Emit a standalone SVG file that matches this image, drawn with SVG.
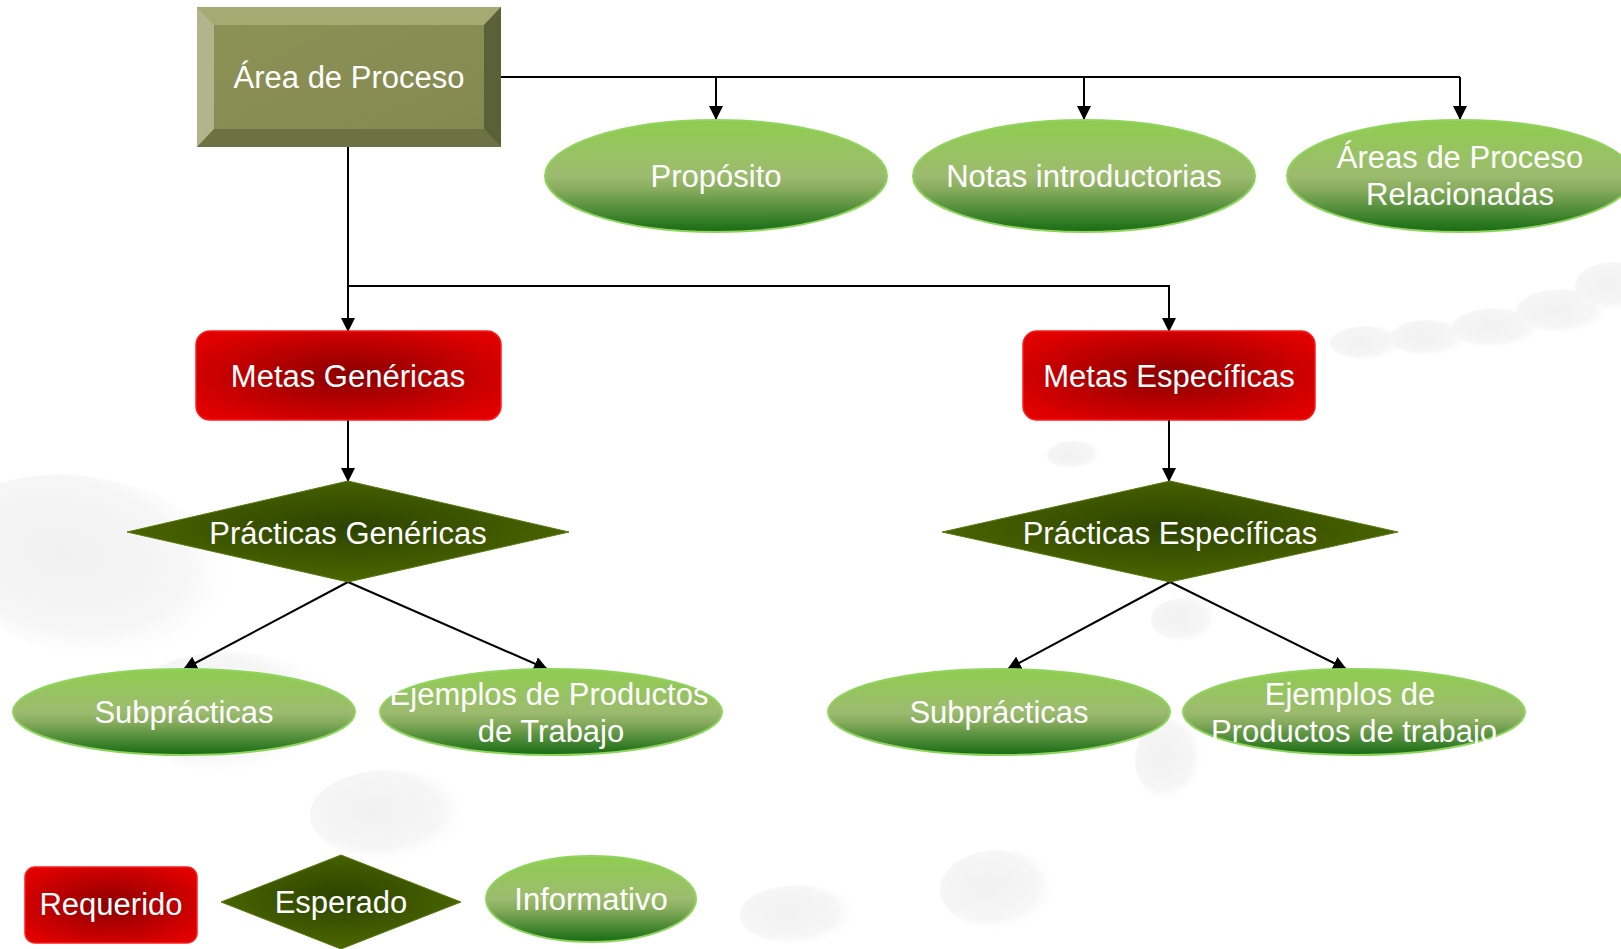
<svg xmlns="http://www.w3.org/2000/svg" width="1621" height="949" viewBox="0 0 1621 949">
<defs>
<style>
.t{font-family:"Liberation Sans",Arial,sans-serif;font-size:31px;fill:#ffffff;text-anchor:middle}
.ell{fill:url(#gEll);stroke:#8fd45c;stroke-width:2}
.goal{fill:url(#gRed);stroke:#ff1a1a;stroke-width:1.5}
.prac{fill:url(#gDia);stroke:#587a12;stroke-width:1}
.con{fill:none;stroke:#000;stroke-width:2}
.blob{fill:url(#gBlob)}
</style>
<linearGradient id="gEll" x1="0" y1="0" x2="0" y2="1">
<stop offset="0" stop-color="#8fcd50"/>
<stop offset="0.5" stop-color="#9dbb6f"/>
<stop offset="0.62" stop-color="#86ac5c"/>
<stop offset="1" stop-color="#176b14"/>
</linearGradient>
<radialGradient id="gRed" cx="0.5" cy="0.5" r="0.6">
<stop offset="0" stop-color="#8a0000"/>
<stop offset="1" stop-color="#e00000"/>
</radialGradient>
<radialGradient id="gDia" cx="0.5" cy="0.45" r="0.55">
<stop offset="0" stop-color="#2c4300"/>
<stop offset="1" stop-color="#4c6600"/>
</radialGradient>
<linearGradient id="gBox" x1="0" y1="0" x2="1" y2="1">
<stop offset="0" stop-color="#8d9356"/>
<stop offset="1" stop-color="#828850"/>
</linearGradient>
<radialGradient id="gBlob" cx="0.4" cy="0.45" r="0.6">
<stop offset="0" stop-color="#f1f1f1"/>
<stop offset="0.7" stop-color="#f6f6f6"/>
<stop offset="1" stop-color="#ffffff" stop-opacity="0"/>
</radialGradient>
<marker id="arr" markerWidth="14" markerHeight="14" refX="13" refY="7" orient="auto" markerUnits="userSpaceOnUse">
<path d="M0,0 L14,7 L0,14 Z" fill="#000"/>
</marker>
<clipPath id="clipGP"><rect x="388" y="660" width="324" height="100"/></clipPath>
<clipPath id="clipSP"><rect x="1180" y="660" width="350" height="86"/></clipPath>
</defs>
<rect width="1621" height="949" fill="#ffffff"/>
<g id="background">
<ellipse class="blob" cx="1368" cy="343" rx="38" ry="17"/>
<ellipse class="blob" cx="1430" cy="338" rx="40" ry="18"/>
<ellipse class="blob" cx="1498" cy="328" rx="46" ry="20"/>
<ellipse class="blob" cx="1564" cy="311" rx="48" ry="22"/>
<ellipse class="blob" cx="1615" cy="286" rx="40" ry="24"/>
<ellipse class="blob" cx="90" cy="568" rx="150" ry="90" transform="rotate(12 90 568)"/>
<ellipse class="blob" cx="230" cy="712" rx="110" ry="60"/>
<ellipse class="blob" cx="390" cy="815" rx="80" ry="45"/>
<ellipse class="blob" cx="1075" cy="455" rx="28" ry="14"/>
<ellipse class="blob" cx="1185" cy="620" rx="34" ry="22"/>
<ellipse class="blob" cx="1170" cy="760" rx="35" ry="40"/>
<ellipse class="blob" cx="800" cy="915" rx="60" ry="30"/>
<ellipse class="blob" cx="1000" cy="890" rx="60" ry="40"/>
</g>
<g id="connectors">
<path class="con" d="M501,77 H1460"/>
<path class="con" d="M716,77 V119" marker-end="url(#arr)"/>
<path class="con" d="M1084,77 V119" marker-end="url(#arr)"/>
<path class="con" d="M1460,77 V119" marker-end="url(#arr)"/>
<path class="con" d="M348,147 V331" marker-end="url(#arr)"/>
<path class="con" d="M348,286 H1169 V331" marker-end="url(#arr)"/>
<path class="con" d="M348,420 V481" marker-end="url(#arr)"/>
<path class="con" d="M1169,420 V481" marker-end="url(#arr)"/>
<path class="con" d="M348,582 L184,669" marker-end="url(#arr)"/>
<path class="con" d="M348,582 L547,669" marker-end="url(#arr)"/>
<path class="con" d="M1170,582 L1008,669" marker-end="url(#arr)"/>
<path class="con" d="M1170,582 L1346,669" marker-end="url(#arr)"/>
</g>
<g id="area-proceso">
<rect x="197" y="7" width="304" height="140" fill="url(#gBox)"/>
<polygon points="197,7 501,7 484,25 214,25" fill="#a4aa72"/>
<polygon points="197,7 214,25 214,129 197,147" fill="#b2b58c"/>
<polygon points="501,7 501,147 484,129 484,25" fill="#5a6038"/>
<polygon points="197,147 214,129 484,129 501,147" fill="#6c7243"/>
<text class="t" x="349" y="88">Área de Proceso</text>
</g>
<g id="proposito">
<ellipse class="ell" cx="716" cy="176" rx="171" ry="56"/>
<text class="t" x="716" y="187">Propósito</text>
</g>
<g id="notas">
<ellipse class="ell" cx="1084" cy="176" rx="171" ry="56"/>
<text class="t" x="1084" y="187">Notas introductorias</text>
</g>
<g id="areas-relacionadas">
<ellipse class="ell" cx="1460" cy="176" rx="173" ry="56"/>
<text class="t" x="1460" y="168">Áreas de Proceso</text>
<text class="t" x="1460" y="205">Relacionadas</text>
</g>
<g id="metas-genericas">
<rect class="goal" x="196" y="331" width="305" height="89" rx="14"/>
<text class="t" x="348" y="387">Metas Genéricas</text>
</g>
<g id="metas-especificas">
<rect class="goal" x="1023" y="331" width="292" height="89" rx="14"/>
<text class="t" x="1169" y="387">Metas Específicas</text>
</g>
<g id="practicas-genericas">
<polygon class="prac" points="348,481 569,532 348,582 127,532"/>
<text class="t" x="348" y="544">Prácticas Genéricas</text>
</g>
<g id="practicas-especificas">
<polygon class="prac" points="1170,481 1398,532 1170,582 942,532"/>
<text class="t" x="1170" y="544">Prácticas Específicas</text>
</g>
<g id="subpracticas-g">
<ellipse class="ell" cx="184" cy="712" rx="171" ry="43"/>
<text class="t" x="184" y="723">Subprácticas</text>
</g>
<g id="ejemplos-g">
<ellipse class="ell" cx="551" cy="712" rx="171" ry="43"/>
<g clip-path="url(#clipGP)">
<text class="t" x="549" y="705">Ejemplos de Productos</text>
<text class="t" x="551" y="742">de Trabajo</text>
</g>
</g>
<g id="subpracticas-e">
<ellipse class="ell" cx="999" cy="712" rx="171" ry="43"/>
<text class="t" x="999" y="723">Subprácticas</text>
</g>
<g id="ejemplos-e">
<ellipse class="ell" cx="1354" cy="712" rx="171" ry="43"/>
<g clip-path="url(#clipSP)">
<text class="t" x="1350" y="705">Ejemplos de</text>
<text class="t" x="1354" y="742">Productos de trabajo</text>
</g>
</g>
<g id="legend-requerido">
<rect class="goal" x="25" y="867" width="172" height="76" rx="10"/>
<text class="t" x="111" y="915">Requerido</text>
</g>
<g id="legend-esperado">
<polygon class="prac" points="341,855 461,902 341,949 221,902"/>
<text class="t" x="341" y="913">Esperado</text>
</g>
<g id="legend-informativo">
<ellipse class="ell" cx="591" cy="899" rx="105" ry="43"/>
<text class="t" x="591" y="910">Informativo</text>
</g>
</svg>
